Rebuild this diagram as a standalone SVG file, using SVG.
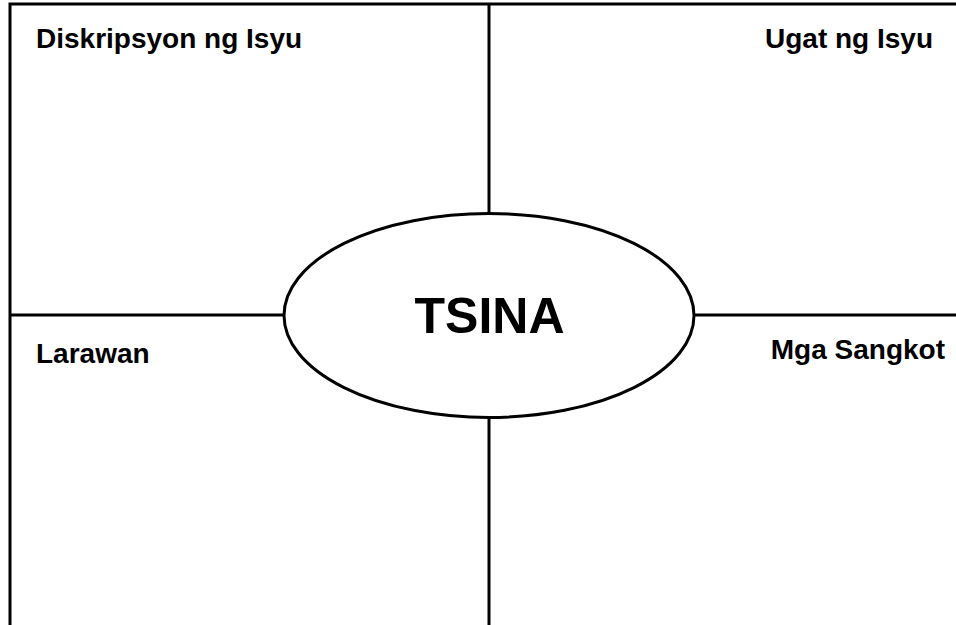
<svg xmlns="http://www.w3.org/2000/svg" width="956" height="625" viewBox="0 0 956 625">
<style>
.ln{stroke:#000;stroke-width:3;fill:none}
.lbl{font-family:"Liberation Sans",Arial,sans-serif;font-weight:bold;font-size:28px;fill:#000}
.ctr{font-family:"Liberation Sans",Arial,sans-serif;font-weight:bold;font-size:50px;fill:#000}
</style>
<rect x="0" y="0" width="956" height="625" fill="#fff"/>
<g id="connectors">
<path class="ln" d="M10 625 V4 H956"/>
<path class="ln" d="M489 4 V214"/>
<path class="ln" d="M489 417 V625"/>
<path class="ln" d="M10 315 H285"/>
<path class="ln" d="M693 315 H956"/>
</g>
<g id="center">
<ellipse class="ln" cx="489" cy="315.5" rx="205" ry="102"/>
<text class="ctr" x="489.5" y="333" text-anchor="middle">TSINA</text>
</g>
<g id="q1"><text class="lbl" x="36" y="48">Diskripsyon ng Isyu</text></g>
<g id="q2"><text class="lbl" x="933" y="48" text-anchor="end">Ugat ng Isyu</text></g>
<g id="q3"><text class="lbl" x="36" y="363">Larawan</text></g>
<g id="q4"><text class="lbl" x="945" y="359" text-anchor="end">Mga Sangkot</text></g>
</svg>
